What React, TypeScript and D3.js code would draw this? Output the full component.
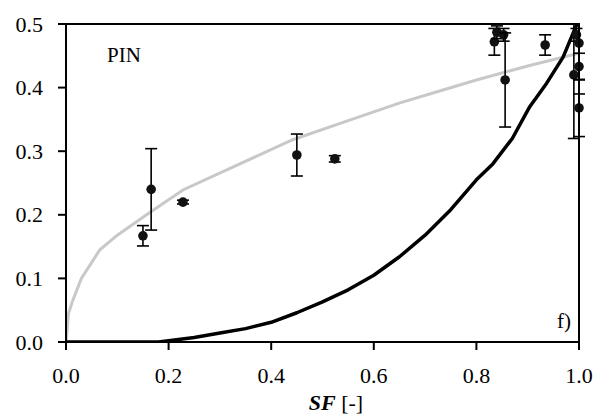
import React from "react";
import * as d3 from "d3";

const xTicks = [0, 0.2, 0.4, 0.6, 0.8, 1.0];
const yTicks = [0, 0.1, 0.2, 0.3, 0.4, 0.5];

// Measured points: x, y, error
const ptX = [0.15, 0.166, 0.228, 0.45, 0.524, 0.835, 0.84, 0.853, 0.856, 0.934, 0.99, 0.995, 1.0, 1.0, 1.0];
const ptY = [0.167, 0.24, 0.22, 0.294, 0.288, 0.472, 0.487, 0.483, 0.412, 0.467, 0.42, 0.483, 0.47, 0.433, 0.368];
const ptE = [0.016, 0.064, 0.003, 0.033, 0.005, 0.021, 0.01, 0.01, 0.074, 0.016, 0.1, 0.01, 0.08, 0.021, 0.045];

// Gray model curve
const grayX = [0, 0.005, 0.013, 0.03, 0.066, 0.1, 0.164, 0.228, 0.325, 0.442, 0.55, 0.651, 0.73, 0.8, 0.9, 1.0];
const grayY = [0, 0.045, 0.065, 0.1, 0.145, 0.168, 0.204, 0.239, 0.275, 0.318, 0.348, 0.376, 0.395, 0.412, 0.434, 0.454];

// Black model curve
const blackX = [0, 0.18, 0.2, 0.25, 0.3, 0.35, 0.4, 0.45, 0.5, 0.55, 0.6, 0.65, 0.7, 0.75, 0.8, 0.832, 0.87, 0.904, 0.937, 0.969, 0.996];
const blackY = [0, 0, 0.002, 0.007, 0.014, 0.021, 0.031, 0.046, 0.063, 0.082, 0.105, 0.134, 0.168, 0.208, 0.255, 0.28, 0.32, 0.37, 0.407, 0.448, 0.5];

const W = 599, H = 415;
const L = 66, R = 579, T = 24, B = 342;

export default function App() {
  const x = d3.scaleLinear().domain([0, 1]).range([L, R]);
  const y = d3.scaleLinear().domain([0, 0.5]).range([B, T]);
  const line = d3.line<[number, number]>().x(d => x(d[0])).y(d => y(d[1]));
  const gray = line(grayX.map((v, i) => [v, grayY[i]]))!;
  const black = line(blackX.map((v, i) => [v, blackY[i]]))!;
  const font = "'Liberation Serif', 'Times New Roman', serif";
  return (
    <svg width={W} height={H} style={{ position: "absolute", left: 0, top: 0, background: "#fff" }} fontFamily={font}>
      <defs>
        <clipPath id="plot"><rect x={L} y={T - 1} width={R - L} height={B - T + 1} /></clipPath>
      </defs>
      <path d={gray} fill="none" stroke="#c8c8c8" strokeWidth={3} clipPath="url(#plot)" />
      <path d={black} fill="none" stroke="#000" strokeWidth={3.5} clipPath="url(#plot)" strokeLinejoin="round" />
      {ptX.map((px, i) => {
        const cx = x(px);
        const top = y(Math.min(0.5, ptY[i] + ptE[i]));
        const bot = y(ptY[i] - ptE[i]);
        const capTop = ptY[i] + ptE[i] <= 0.5;
        return (
          <g key={i}>
            <line x1={cx} x2={cx} y1={top} y2={bot} stroke="#000" strokeWidth={1.6} />
            {capTop && <line x1={cx - 6} x2={cx + 6} y1={top} y2={top} stroke="#000" strokeWidth={1.6} />}
            <line x1={cx - 6} x2={cx + 6} y1={bot} y2={bot} stroke="#000" strokeWidth={1.6} />
            <circle cx={cx} cy={y(ptY[i])} r={4.8} fill="#111" />
          </g>
        );
      })}
      <rect x={L} y={T} width={R - L} height={B - T} fill="none" stroke="#000" strokeWidth={2} />
      {xTicks.map((t, i) => (
        <g key={i}>
          <line x1={x(t)} x2={x(t)} y1={B} y2={B + 8} stroke="#000" strokeWidth={2} />
          <text x={x(t)} y={383} textAnchor="middle" fontSize={22}>{t.toFixed(1)}</text>
        </g>
      ))}
      {yTicks.map((t, i) => (
        <g key={i}>
          <line x1={L - 8} x2={L} y1={y(t)} y2={y(t)} stroke="#000" strokeWidth={2} />
          <text x={43} y={y(t) + 7.5} textAnchor="end" fontSize={22}>{t.toFixed(1)}</text>
        </g>
      ))}
      <text x={336} y={410} textAnchor="middle" fontSize={22}>
        <tspan fontWeight="bold" fontStyle="italic">SF</tspan> [-]
      </text>
      <text x={107} y={62} fontSize={21}>PIN</text>
      <text x={571} y={328} textAnchor="end" fontSize={21}>f)</text>
    </svg>
  );
}
